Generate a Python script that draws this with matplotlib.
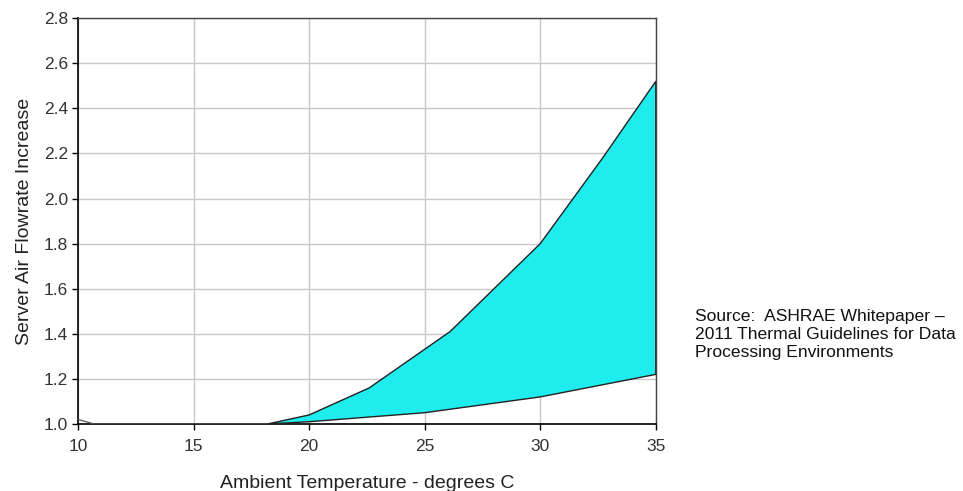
import matplotlib
matplotlib.use("Agg")
import matplotlib.pyplot as plt
import numpy as np

plt.rcParams['font.family'] = ['Liberation Sans', 'DejaVu Sans']

# upper edge of the band
upper_t = [10, 10.7, 18.2, 20, 22.6, 26.1, 30, 32.7, 35]
upper_v = [1.02, 1.0, 1.0, 1.04, 1.16, 1.41, 1.80, 2.18, 2.52]
# lower edge of the band
lower_t = [18.2, 20, 25, 30, 35]
lower_v = [1.0, 1.01, 1.05, 1.12, 1.22]

x_ticks = [10, 15, 20, 25, 30, 35]
y_ticks = [1.0, 1.2, 1.4, 1.6, 1.8, 2.0, 2.2, 2.4, 2.6, 2.8]

fig = plt.figure(figsize=(9.63, 4.91), dpi=100)
ax = fig.add_axes([0.081, 0.1365, 0.6, 0.8265])

# band polygon: upper curve from 18.2 onwards, then lower curve back
band_t = upper_t[2:] + lower_t[::-1]
band_v = upper_v[2:] + lower_v[::-1]
ax.fill(band_t, band_v, facecolor='#1eeced', edgecolor='#222222', linewidth=1.0, zorder=3)
ax.plot(upper_t[:3], upper_v[:3], color='#555555', linewidth=0.9, zorder=3)

ax.set_xlim(10, 35)
ax.set_ylim(1.0, 2.8)
ax.set_xticks(x_ticks)
ax.set_yticks(y_ticks)
ax.set_yticklabels(['%.1f' % v for v in y_ticks])
ax.grid(True, color='#c8c8c8', linewidth=1.0)
ax.set_axisbelow(True)

for side in ['left', 'bottom']:
    ax.spines[side].set_color('black')
    ax.spines[side].set_linewidth(1.2)
for side in ['top', 'right']:
    ax.spines[side].set_color('#444444')
    ax.spines[side].set_linewidth(1.0)

ax.tick_params(direction='out', length=4, width=1, colors='black',
               labelcolor='#333333', labelsize=12.5)
ax.tick_params(axis='x', pad=7)
ax.tick_params(axis='y', pad=3)
ax.set_xlabel('Ambient Temperature - degrees C', fontsize=14, color='#222222', labelpad=15)
ax.set_ylabel('Server Air Flowrate Increase', fontsize=14, color='#222222', labelpad=8)

fig.text(0.7215, 0.318, 'Source:  ASHRAE Whitepaper \u2013\n2011 Thermal Guidelines for Data\nProcessing Environments',
         fontsize=12.6, color='#111111', va='center', ha='left', linespacing=1.25)

fig.savefig('out.png', dpi=100)
